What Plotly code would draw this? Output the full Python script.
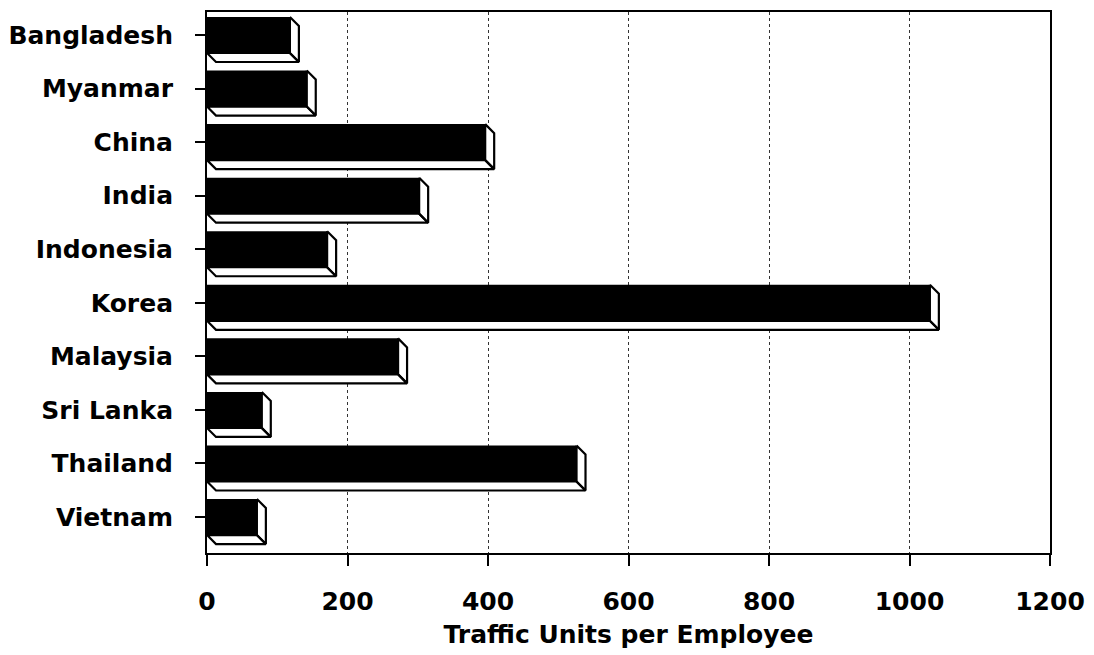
import plotly.graph_objects as go

countries = ["Bangladesh", "Myanmar", "China", "India", "Indonesia",
             "Korea", "Malaysia", "Sri Lanka", "Thailand", "Vietnam"]
traffic_per_employee = [118, 142, 396, 302, 171, 1029, 272, 78, 526, 71]
x_tick_values = [0, 200, 400, 600, 800, 1000, 1200]
x_title = "Traffic Units per Employee"

# style constants
BAR_W = 0.672     # category units
DX = 12.8         # depth in x data units
DY = 0.168        # depth in category units
FONT = dict(family="DejaVu Sans", size=25, color="black", weight="bold")

idx = list(range(len(countries)))

fig = go.Figure()
fig.add_trace(go.Bar(
    x=traffic_per_employee, y=idx, orientation="h", width=BAR_W,
    marker=dict(color="black", line=dict(width=0)), showlegend=False,
    hoverinfo="skip"))

# 3D depth faces derived from the values
fx, fy = [], []
h = BAR_W / 2
for i, v in zip(idx, traffic_per_employee):
    # bottom face
    fx += [0, v, v + DX, DX, 0, None]
    fy += [i + h, i + h, i + h + DY, i + h + DY, i + h, None]
    # right side face
    fx += [v, v + DX, v + DX, v, v, None]
    fy += [i - h, i - h + DY, i + h + DY, i + h, i - h, None]

fig.add_trace(go.Scatter(
    x=fx, y=fy, mode="lines", fill="toself", fillcolor="white",
    line=dict(color="black", width=2.2), showlegend=False, hoverinfo="skip"))

# page body has an 8px margin, so the figure is 8px smaller and offset
fig.update_layout(
    width=1086, height=647,
    margin=dict(l=199, r=44, t=4, b=102, autoexpand=False),
    paper_bgcolor="white", plot_bgcolor="white",
    font=FONT,
)
fig.update_xaxes(
    range=[0, 1200], tickvals=x_tick_values, automargin=False,
    showgrid=True, gridcolor="#333", griddash="dot", gridwidth=1,
    showline=True, linecolor="black", linewidth=2, mirror=True,
    ticks="outside", ticklen=11, tickwidth=2, tickcolor="black",
    ticklabelstandoff=14, zeroline=False,
    title=dict(text=x_title, font=FONT, standoff=10),
)
fig.update_yaxes(
    range=[9.671, -0.429], tickvals=idx, ticktext=countries, automargin=False,
    showgrid=False, showline=True, linecolor="black", linewidth=2, mirror=True,
    ticks="outside", ticklen=10, tickwidth=2, tickcolor="black",
    ticklabelstandoff=17, zeroline=False,
)

fig.write_html("out.html")
